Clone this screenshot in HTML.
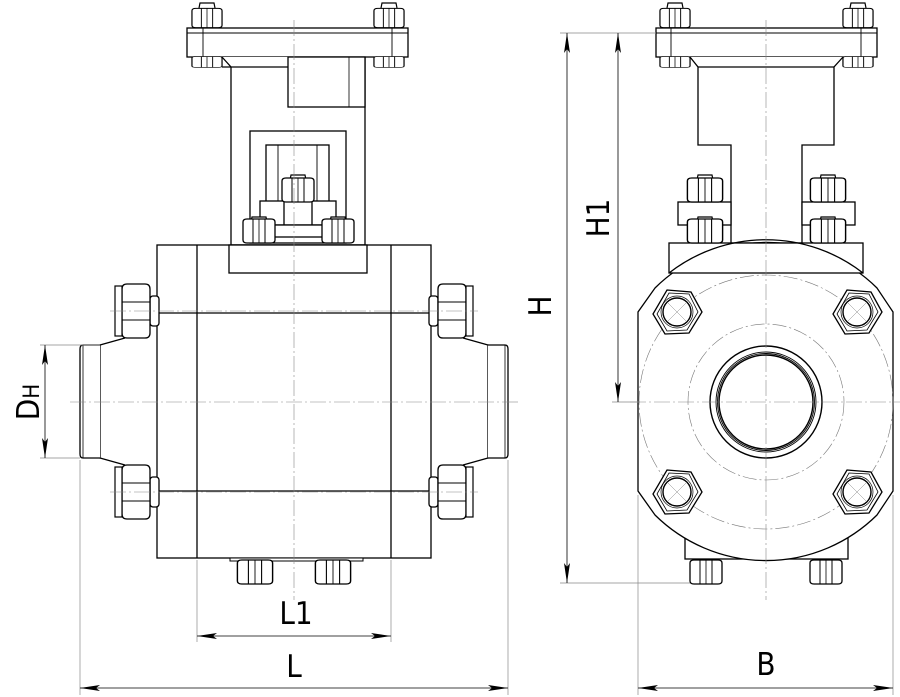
<!DOCTYPE html>
<html><head><meta charset="utf-8"><style>
html,body{margin:0;padding:0;background:#fff;width:900px;height:697px;overflow:hidden}
svg{display:block}
text{font-family:"DejaVu Sans Condensed","Liberation Sans",sans-serif;fill:#000}
</style></head><body>
<svg width="900" height="697" viewBox="0 0 900 697" xmlns="http://www.w3.org/2000/svg">
<defs>
<g id="nv">
<path d="M-16,-9 Q-16,-12 -12,-12 L12,-12 Q16,-12 16,-9 L16,9 Q16,12 12,12 L-12,12 Q-16,12 -16,9 Z" fill="#fff" stroke="#000" stroke-width="1.3"/>
<line x1="-6" y1="-12" x2="-6" y2="12" stroke="#000" stroke-width="1"/>
<line x1="6" y1="-12" x2="6" y2="12" stroke="#000" stroke-width="1"/>
<line x1="0" y1="-12" x2="0" y2="12" stroke="#000" stroke-width="0.8"/>
</g>
<g id="cap"><path d="M-8,0 L-7,-5 L7,-5 L8,0" fill="#fff" stroke="#000" stroke-width="1.2"/></g>
<g id="nh">
<rect x="-9" y="-15" width="9" height="30" rx="3" fill="#fff" stroke="#000" stroke-width="1.3"/>
<path d="M0,-22 Q0,-27 5,-27 L23,-27 Q28,-27 28,-22 L28,22 Q28,27 23,27 L5,27 Q0,27 0,22 Z" fill="#fff" stroke="#000" stroke-width="1.3"/>
<line x1="0" y1="-9" x2="28" y2="-9" stroke="#000" stroke-width="1"/>
<line x1="0" y1="9" x2="28" y2="9" stroke="#000" stroke-width="1"/>
<rect x="28" y="-25" width="7" height="50" fill="#fff" stroke="#000" stroke-width="1.2"/>
</g>
<g id="hx">
<polygon points="-10,-22 14,-20 25,0 12,21 -12,22 -24,2" fill="#fff" stroke="#000" stroke-width="1.3"/>
<polygon points="-8,-19 12,-18 21,0 10,18 -10,19 -20,2" fill="none" stroke="#000" stroke-width="0.8"/>
<circle r="16" fill="none" stroke="#000" stroke-width="0.7"/>
<circle r="14" fill="#fff" stroke="#000" stroke-width="1.4"/>
<line x1="-11" y1="11" x2="11" y2="-11" stroke="#888" stroke-width="0.5"/>
<line x1="-11" y1="-11" x2="11" y2="11" stroke="#888" stroke-width="0.5"/>
</g>
<marker id="ar" viewBox="0 0 20 6" refX="20" refY="3" markerWidth="20" markerHeight="6" orient="auto-start-reverse" markerUnits="userSpaceOnUse">
<path d="M0,0 L20,3 L0,6 L4,3 Z" fill="#000"/></marker>
</defs>

<g stroke="#000" stroke-width="1.3" fill="#fff">
<rect x="187" y="28" width="221" height="29"/>
<line x1="187" y1="33" x2="408" y2="33" stroke-width="0.9"/>
<line x1="203" y1="28" x2="203" y2="57" stroke-width="0.9"/>
<line x1="392" y1="28" x2="392" y2="57" stroke-width="0.9"/>
<path d="M222,57 L231,67 L231,245 L365,245 L365,57"/>
<line x1="222" y1="67" x2="288" y2="67"/>
<rect x="288" y="57" width="77" height="50"/>
<line x1="349" y1="57" x2="349" y2="107" stroke-width="0.8"/>
<rect x="250" y="131" width="96" height="112"/>
<rect x="266" y="145" width="63" height="70"/>
<line x1="278" y1="145" x2="278" y2="215" stroke-width="0.9"/>
<line x1="317" y1="145" x2="317" y2="215" stroke-width="0.9"/>
<rect x="260" y="201" width="76" height="24"/>
<rect x="284" y="201" width="28" height="24"/>
<rect x="270" y="225" width="56" height="12"/>
<rect x="157" y="245" width="274" height="313"/>
<line x1="197" y1="245" x2="197" y2="558"/>
<line x1="391" y1="245" x2="391" y2="558"/>
<line x1="157" y1="313" x2="431" y2="313"/>
<line x1="157" y1="491" x2="431" y2="491"/>
<rect x="229" y="245" width="138" height="28"/>
<rect x="230" y="558" width="133" height="3" stroke-width="1"/>
<path d="M125,338 L100,345 L100,458 L125,465" fill="none"/>
<path d="M100,345 L83,345 Q80,345 80,349 L80,454 Q80,458 83,458 L100,458" />
<line x1="83" y1="345" x2="83" y2="458" stroke-width="0.8"/>
<path d="M463,338 L488,345 L488,458 L463,465" fill="none"/>
<path d="M488,345 L505,345 Q508,345 508,349 L508,454 Q508,458 505,458 L488,458"/>
<line x1="505" y1="345" x2="505" y2="458" stroke-width="0.8"/>
</g>
<use href="#nh" transform="translate(150,311) scale(-1,1)"/>
<use href="#nh" transform="translate(150,492) scale(-1,1)"/>
<use href="#nh" transform="translate(438,311)"/>
<use href="#nh" transform="translate(438,492)"/>
<use href="#cap" transform="translate(207,8)"/><use href="#nv" transform="translate(207,18) scale(0.94,0.8)"/>
<use href="#nv" transform="translate(207,62) scale(0.94,0.45)"/>
<use href="#cap" transform="translate(389,8)"/><use href="#nv" transform="translate(389,18) scale(0.94,0.8)"/>
<use href="#nv" transform="translate(389,62) scale(0.94,0.45)"/>
<use href="#cap" transform="translate(298,180)"/><use href="#nv" transform="translate(298,190)"/>
<use href="#cap" transform="translate(259,222)"/><use href="#nv" transform="translate(259,231)"/>
<use href="#cap" transform="translate(338,222)"/><use href="#nv" transform="translate(338,231)"/>
<use href="#nv" transform="translate(255,572) scale(1.1,1)"/>
<use href="#nv" transform="translate(333,572) scale(1.1,1)"/>

<g stroke="#000" stroke-width="1.3" fill="#fff">
<rect x="656" y="28" width="221" height="29"/>
<line x1="656" y1="33" x2="877" y2="33" stroke-width="0.9"/>
<line x1="671" y1="28" x2="671" y2="57" stroke-width="0.9"/>
<line x1="861" y1="28" x2="861" y2="57" stroke-width="0.9"/>
<path d="M690,57 L698,67 L698,145 L731,145 L731,243 L802,243 L802,145 L834,145 L834,67 L843,57"/>
<line x1="698" y1="67" x2="834" y2="67"/>
<rect x="678" y="202" width="53" height="23"/>
<rect x="802" y="202" width="53" height="23"/>
<rect x="685" y="533" width="163" height="26"/>
<path d="M655,288 A158,158 0 0 1 877,288 L893,312 L893,491 L877,515 A158,158 0 0 1 655,515 L638,491 L638,312 Z"/>
<rect x="669" y="243" width="194" height="30"/>
</g>
<path d="M669,273 A158,158 0 0 1 863,273" fill="none" stroke="#000" stroke-width="1.3"/>
<g fill="none" stroke="#777" stroke-width="0.6" stroke-dasharray="14,3,2,3">
<circle cx="766" cy="402" r="127"/>
<circle cx="766" cy="402" r="78"/>
</g>
<g fill="none" stroke="#000">
<circle cx="766" cy="402" r="56" stroke-width="1.4"/>
<circle cx="766" cy="402" r="50" stroke-width="0.9"/>
<circle cx="766" cy="402" r="48.5" stroke-width="0.9"/>
<circle cx="766" cy="402" r="47" stroke-width="1.4"/>
</g>
<use href="#hx" transform="translate(677,312)"/>
<use href="#hx" transform="translate(857,312)"/>
<use href="#hx" transform="translate(677,492)"/>
<use href="#hx" transform="translate(857,492)"/>
<use href="#cap" transform="translate(675,8)"/><use href="#nv" transform="translate(675,18) scale(0.94,0.8)"/>
<use href="#nv" transform="translate(675,62) scale(0.94,0.45)"/>
<use href="#cap" transform="translate(858,8)"/><use href="#nv" transform="translate(858,18) scale(0.94,0.8)"/>
<use href="#nv" transform="translate(858,62) scale(0.94,0.45)"/>
<use href="#cap" transform="translate(705,180)"/><use href="#nv" transform="translate(705,190) scale(1.1,1)"/>
<use href="#cap" transform="translate(705,222)"/><use href="#nv" transform="translate(705,231) scale(1.1,1)"/>
<use href="#cap" transform="translate(828,180)"/><use href="#nv" transform="translate(828,190) scale(1.1,1)"/>
<use href="#cap" transform="translate(828,222)"/><use href="#nv" transform="translate(828,231) scale(1.1,1)"/>
<use href="#nv" transform="translate(706,572)"/>
<use href="#nv" transform="translate(826,572)"/>

<g stroke="#888" stroke-width="0.6" fill="none" stroke-dasharray="16,3,2,3">
<line x1="294" y1="20" x2="294" y2="600"/>
<line x1="70" y1="402" x2="520" y2="402"/>
<line x1="766" y1="20" x2="766" y2="600"/>
<line x1="630" y1="402" x2="900" y2="402"/>
<line x1="110" y1="311" x2="478" y2="311"/>
<line x1="110" y1="492" x2="478" y2="492"/>
</g>

<g stroke="#888" stroke-width="0.7" fill="none">
<line x1="560" y1="33" x2="656" y2="33"/>
<line x1="560" y1="583" x2="690" y2="583"/>
<line x1="612" y1="402" x2="640" y2="402"/>
<line x1="40" y1="345" x2="100" y2="345"/>
<line x1="40" y1="458" x2="80" y2="458"/>
<line x1="80" y1="460" x2="80" y2="695"/>
<line x1="508" y1="460" x2="508" y2="695"/>
<line x1="197" y1="560" x2="197" y2="642"/>
<line x1="391" y1="560" x2="391" y2="642"/>
<line x1="638" y1="495" x2="638" y2="695"/>
<line x1="893" y1="495" x2="893" y2="695"/>
</g>
<g stroke="#000" stroke-width="0.8" fill="none">
<line x1="567" y1="33" x2="567" y2="583" marker-start="url(#ar)" marker-end="url(#ar)"/>
<line x1="618" y1="33" x2="618" y2="402" marker-start="url(#ar)" marker-end="url(#ar)"/>
<line x1="45" y1="345" x2="45" y2="458" marker-start="url(#ar)" marker-end="url(#ar)"/>
<line x1="197" y1="636" x2="391" y2="636" marker-start="url(#ar)" marker-end="url(#ar)"/>
<line x1="80" y1="688" x2="508" y2="688" marker-start="url(#ar)" marker-end="url(#ar)"/>
<line x1="638" y1="688" x2="893" y2="688" marker-start="url(#ar)" marker-end="url(#ar)"/>
</g>
<text x="296" y="624" font-size="31" text-anchor="middle">L1</text>
<text x="294" y="677" font-size="31" text-anchor="middle">L</text>
<text x="766" y="675" font-size="31" text-anchor="middle">B</text>
<text transform="translate(551,306) rotate(-90)" font-size="31" text-anchor="middle">H</text>
<text transform="translate(609,218) rotate(-90)" font-size="31" text-anchor="middle">H1</text>
<text transform="translate(39,402) rotate(-90)" font-size="31" text-anchor="middle">D<tspan font-size="22">Н</tspan></text>
</svg>
</body></html>
